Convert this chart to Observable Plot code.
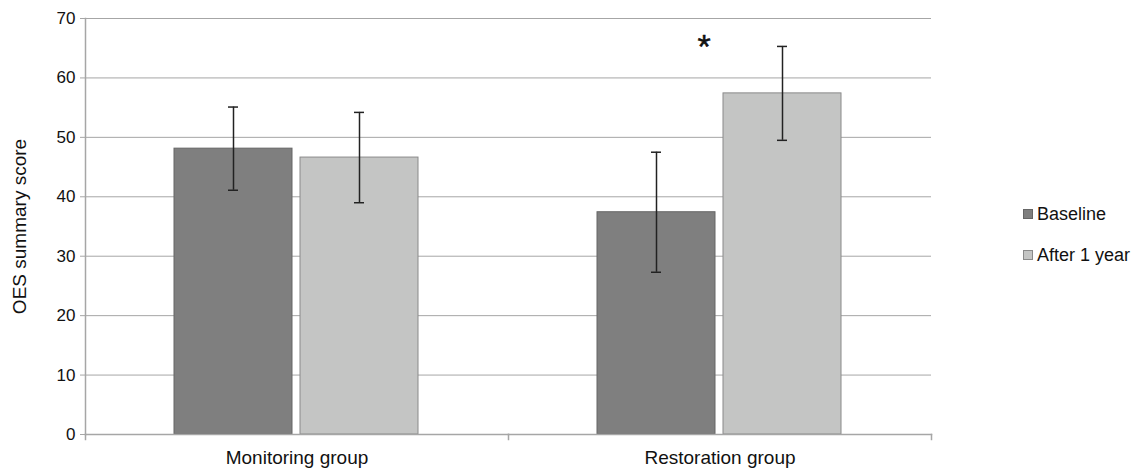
<!DOCTYPE html>
<html>
<head>
<meta charset="utf-8">
<script src="https://cdn.jsdelivr.net/npm/d3@7"></script>
<script src="https://cdn.jsdelivr.net/npm/@observablehq/plot@0.6"></script>
<style>
  body { margin: 0; background: #fff; font-family: "Liberation Sans", Arial, sans-serif; }
  #wrap { position: relative; width: 1146px; height: 473px; }
  #legend { position: absolute; left: 1023px; top: 204px; font-size: 18px; color: #111; line-height: 20px; }
  .item { display: flex; align-items: center; height: 20px; margin-bottom: 21px; white-space: nowrap; }
  .sw { width: 8px; height: 8px; margin-right: 4px; }
</style>
</head>
<body>
<div id="wrap"><div id="legend"></div></div>
<script>
const groups = ["Monitoring group", "Restoration group"];
const series = ["Baseline", "After 1 year"];
const means = [[48.1, 46.6], [37.4, 57.4]];
const errors = [[7.0, 7.6], [10.1, 7.9]];
const yTicks = [0, 10, 20, 30, 40, 50, 60, 70];
const yLabel = "OES summary score";
const sigGroup = "Restoration group";
const sigValue = 65.8;
const sigLabel = "*";
const fills = ["#7f7f7f", "#c4c5c4"];
const strokes = ["#666666", "#8a8a8a"];

const rows = [];
groups.forEach((g, gi) => series.forEach((s, si) => {
  rows.push({group: g, series: s, value: means[gi][si], lo: means[gi][si] - errors[gi][si], hi: means[gi][si] + errors[gi][si]});
}));

const axisColor = "#a6a6a6";
const errColor = "#222";
const chart = Plot.plot({
  width: 1146,
  height: 473,
  marginLeft: 84,
  marginRight: 215,
  marginTop: 18,
  marginBottom: 39,
  style: {fontFamily: "'Liberation Sans', Arial, sans-serif", background: "#fff", color: "#000"},
  fx: {domain: groups, padding: 0, label: null},
  x: {domain: series, paddingInner: 0.063, paddingOuter: 0.705, axis: null},
  y: {domain: [0, 70], ticks: yTicks, label: null},
  marks: [
    Plot.ruleY(yTicks, {stroke: axisColor, strokeWidth: 1}),
    ...series.map((s, i) => Plot.barY(rows.filter(d => d.series === s), {fx: "group", x: "series", y: "value", fill: fills[i], stroke: strokes[i], strokeWidth: 1})),
    Plot.ruleX(rows, {fx: "group", x: "series", y1: "lo", y2: "hi", stroke: errColor, strokeWidth: 1.5}),
    Plot.tickY(rows, {fx: "group", x: "series", y: "hi", stroke: errColor, strokeWidth: 1.5, insetLeft: 54, insetRight: 54}),
    Plot.tickY(rows, {fx: "group", x: "series", y: "lo", stroke: errColor, strokeWidth: 1.5, insetLeft: 54, insetRight: 54}),
    Plot.text([{group: sigGroup, y: sigValue, label: sigLabel}], {fx: "group", y: "y", text: "label", dx: -16, dy: 4, fontSize: 34, lineAnchor: "middle", fill: "#111", stroke: "#111", strokeWidth: 0.5}),
    Plot.frame({anchor: "left", fx: groups[0], stroke: axisColor, strokeWidth: 1.5}),
    Plot.frame({anchor: "bottom", stroke: axisColor, strokeWidth: 1.5}),
    Plot.frame({anchor: "left", insetTop: 416, insetBottom: -5, stroke: axisColor, strokeWidth: 1.5}),
    Plot.frame({anchor: "right", fx: groups[1], insetTop: 416, insetBottom: -5, stroke: axisColor, strokeWidth: 1.5}),
    Plot.axisY({ticks: yTicks, tickSize: 5, tickPadding: 5, fontSize: 17, stroke: axisColor, label: null, fill: "#111"}),
    Plot.text([{group: groups[0], t: yLabel}], {fx: "group", text: "t", frameAnchor: "left", textAnchor: "middle", rotate: -90, dx: -66, fontSize: 19, fill: "#111"}),
    Plot.axisFx({anchor: "bottom", tickSize: 0, tickPadding: 16, fontSize: 19, label: null, lineAnchor: "top", fill: "#111"})
  ]
});
document.getElementById("wrap").prepend(chart);

const legend = document.getElementById("legend");
series.forEach((s, i) => {
  const it = document.createElement("div");
  it.className = "item";
  it.innerHTML = `<span class="sw" style="background:${fills[i]};border:1px solid ${strokes[i]}"></span><span>${s}</span>`;
  legend.appendChild(it);
});
</script>
</body>
</html>
